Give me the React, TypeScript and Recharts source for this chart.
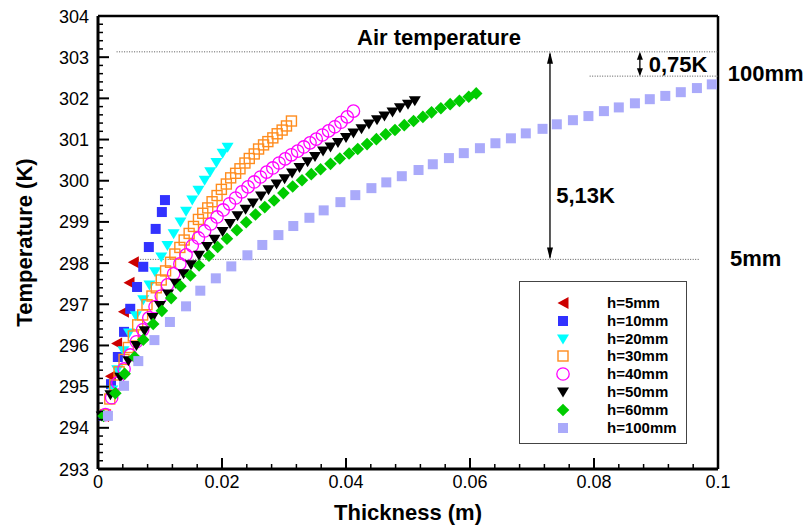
import React from 'react';
import { ScatterChart, Scatter, XAxis, YAxis, ReferenceLine, ReferenceDot, Legend } from 'recharts';

const FONT = '"Liberation Sans", Arial, Helvetica, sans-serif';

// ---- axis ticks ----
const xMajor = [0, 0.02, 0.04, 0.06, 0.08, 0.1];
const xMajorLabels = ['0', '0.02', '0.04', '0.06', '0.08', '0.1'];
const yMajor = [293, 294, 295, 296, 297, 298, 299, 300, 301, 302, 303, 304];
const yMajorLabels = ['293', '294', '295', '296', '297', '298', '299', '300', '301', '302', '303', '304'];
const xMinorStep = 0.004;
const yMinorStep = 0.2;

// ---- annotation values ----
const airTemp = 303.13;
const level5mm = 298.09;
const level100mm = 302.54;
const bigArrowX = 0.0729;
const smallArrowX = 0.0874;

// ---- series (thickness in m, temperature in K) ----
const h5X = [0.0009, 0.002, 0.003, 0.0041, 0.005, 0.0057];
const h5T = [294.29, 295.25, 296.05, 296.82, 297.52, 298.02];

const h10X = [0.0009, 0.0021, 0.0032, 0.0042, 0.0052, 0.0063, 0.0073, 0.0082, 0.0093, 0.0103, 0.0108];
const h10T = [294.29, 295.06, 295.72, 296.33, 296.89, 297.42, 297.91, 298.39, 298.83, 299.24, 299.53];

const h20X = [0.0009, 0.0023, 0.0031, 0.0041, 0.005, 0.0061, 0.0073, 0.0083, 0.0092, 0.0102, 0.0112, 0.0122, 0.0133, 0.0142, 0.0152, 0.0162, 0.0172, 0.0181, 0.0191, 0.0201, 0.0209];
const h20T = [294.29, 294.92, 295.41, 295.87, 296.3, 296.72, 297.11, 297.47, 297.79, 298.15, 298.43, 298.71, 299.0, 299.26, 299.53, 299.77, 300.01, 300.22, 300.44, 300.67, 300.81];

const h30X = [0.0012, 0.0019, 0.0027, 0.0034, 0.0042, 0.0049, 0.0057, 0.0064, 0.0072, 0.0079, 0.0087, 0.0094, 0.0102, 0.0109, 0.0117, 0.0124, 0.0132, 0.0139, 0.0147, 0.0154, 0.0162, 0.0169, 0.0177, 0.0184, 0.0192, 0.0199, 0.0207, 0.0214, 0.0222, 0.0229, 0.0237, 0.0244, 0.0252, 0.0259, 0.0267, 0.0274, 0.0282, 0.0289, 0.0297, 0.0304, 0.0312];
const h30T = [294.32, 294.7, 295.04, 295.36, 295.66, 295.95, 296.23, 296.5, 296.74, 296.99, 297.2, 297.4, 297.59, 297.81, 298.02, 298.22, 298.38, 298.56, 298.72, 298.89, 299.06, 299.21, 299.34, 299.49, 299.64, 299.79, 299.92, 300.07, 300.18, 300.29, 300.43, 300.54, 300.65, 300.77, 300.87, 300.95, 301.04, 301.14, 301.23, 301.33, 301.45];

const h40X = [0.0012, 0.0022, 0.0032, 0.0042, 0.0052, 0.0062, 0.0072, 0.0082, 0.0092, 0.0102, 0.0112, 0.0122, 0.0132, 0.0142, 0.0152, 0.0162, 0.0172, 0.0182, 0.0192, 0.0202, 0.0212, 0.0222, 0.0232, 0.0242, 0.0252, 0.0262, 0.0272, 0.0282, 0.0292, 0.0302, 0.0312, 0.0322, 0.0332, 0.0342, 0.0352, 0.0362, 0.0372, 0.0382, 0.0392, 0.0402, 0.0412];
const h40T = [294.32, 294.73, 295.09, 295.43, 295.77, 296.09, 296.38, 296.67, 296.94, 297.2, 297.47, 297.74, 297.98, 298.2, 298.42, 298.61, 298.78, 298.95, 299.12, 299.29, 299.44, 299.58, 299.73, 299.85, 299.97, 300.09, 300.21, 300.31, 300.43, 300.53, 300.63, 300.72, 300.82, 300.92, 301.01, 301.11, 301.21, 301.31, 301.42, 301.55, 301.69];

const h50X = [0.0006, 0.002, 0.0036, 0.0049, 0.0062, 0.0075, 0.0088, 0.01, 0.0113, 0.0125, 0.0138, 0.015, 0.0163, 0.0176, 0.0188, 0.0201, 0.0213, 0.0225, 0.0238, 0.025, 0.0263, 0.0275, 0.0288, 0.0301, 0.0313, 0.0325, 0.0338, 0.035, 0.0363, 0.0375, 0.0387, 0.04, 0.0412, 0.0425, 0.0437, 0.045, 0.0462, 0.0475, 0.0487, 0.05, 0.0511];
const h50T = [294.29, 294.8, 295.23, 295.63, 296.0, 296.36, 296.68, 296.97, 297.25, 297.51, 297.74, 297.96, 298.19, 298.4, 298.58, 298.77, 298.96, 299.15, 299.31, 299.46, 299.63, 299.78, 299.92, 300.05, 300.19, 300.32, 300.46, 300.59, 300.72, 300.82, 300.93, 301.05, 301.16, 301.26, 301.38, 301.48, 301.57, 301.67, 301.77, 301.86, 301.94];

const h60X = [0.0009, 0.0028, 0.0043, 0.0059, 0.0073, 0.0089, 0.0103, 0.0118, 0.0133, 0.0149, 0.0163, 0.0179, 0.0193, 0.0208, 0.0224, 0.0239, 0.0254, 0.0269, 0.0284, 0.0299, 0.0314, 0.0329, 0.0344, 0.0359, 0.0375, 0.039, 0.0405, 0.0419, 0.0434, 0.0449, 0.0464, 0.0479, 0.0494, 0.0509, 0.0524, 0.0538, 0.0553, 0.0568, 0.0583, 0.0598, 0.061];
const h60T = [294.29, 294.84, 295.31, 295.72, 296.14, 296.52, 296.84, 297.15, 297.44, 297.7, 297.94, 298.18, 298.39, 298.59, 298.8, 298.99, 299.18, 299.36, 299.52, 299.7, 299.86, 300.01, 300.16, 300.28, 300.41, 300.54, 300.66, 300.77, 300.89, 301.01, 301.13, 301.23, 301.35, 301.45, 301.55, 301.66, 301.76, 301.86, 301.94, 302.04, 302.12];

const h100X = [0.0016, 0.0042, 0.0065, 0.0091, 0.0116, 0.0142, 0.0165, 0.019, 0.0215, 0.0241, 0.0265, 0.0291, 0.0315, 0.0341, 0.0364, 0.0391, 0.0415, 0.0441, 0.0465, 0.049, 0.0517, 0.054, 0.0566, 0.059, 0.0616, 0.0641, 0.0666, 0.069, 0.0717, 0.074, 0.0766, 0.0791, 0.0816, 0.084, 0.0866, 0.089, 0.0915, 0.094, 0.0966, 0.099];
const h100T = [294.29, 295.02, 295.62, 296.13, 296.57, 296.95, 297.33, 297.63, 297.92, 298.19, 298.44, 298.68, 298.9, 299.1, 299.28, 299.48, 299.65, 299.82, 299.96, 300.11, 300.26, 300.4, 300.55, 300.67, 300.79, 300.91, 301.03, 301.15, 301.26, 301.37, 301.47, 301.57, 301.69, 301.78, 301.88, 301.98, 302.06, 302.15, 302.25, 302.34];

const seriesNames = ['h=5mm', 'h=10mm', 'h=20mm', 'h=30mm', 'h=40mm', 'h=50mm', 'h=60mm', 'h=100mm'];
const seriesKinds = ['left', 'square', 'down', 'osquare', 'circle', 'down', 'diamond', 'square'];
const seriesColors = ['#CC0000', '#3232FF', '#00FFFF', '#FF8C1E', '#FF00FF', '#000000', '#00CC00', '#AAAAFA'];
const seriesX = [h5X, h10X, h20X, h30X, h40X, h50X, h60X, h100X];
const seriesT = [h5T, h10T, h20T, h30T, h40T, h50T, h60T, h100T];

const toPts = (xs: number[], ts: number[]) => xs.map((x, i) => ({ x, y: ts[i] }));

const xTicks: number[] = [];
for (let i = 0; i <= Math.round(0.1 / xMinorStep); i++) xTicks.push(Math.round(i * xMinorStep * 1e6) / 1e6);
const yTicks: number[] = [];
for (let i = 0; i <= Math.round(11 / yMinorStep); i++) yTicks.push(Math.round((293 + i * yMinorStep) * 1e4) / 1e4);

function Mk({ kind, color, cx, cy }: any) {
  switch (kind) {
    case 'left':
      return <polygon points={`${cx - 5.5},${cy} ${cx + 5.5},${cy - 6} ${cx + 5.5},${cy + 6}`} fill={color} />;
    case 'square':
      return <rect x={cx - 5} y={cy - 5} width={10} height={10} fill={color} />;
    case 'down':
      return <polygon points={`${cx - 6},${cy - 4.5} ${cx + 6},${cy - 4.5} ${cx},${cy + 5.5}`} fill={color} />;
    case 'osquare':
      return <rect x={cx - 5} y={cy - 5} width={10} height={10} fill="none" stroke={color} strokeWidth={1.4} />;
    case 'circle':
      return <circle cx={cx} cy={cy} r={6.2} fill="none" stroke={color} strokeWidth={1.3} />;
    case 'diamond':
      return <polygon points={`${cx},${cy - 6.3} ${cx + 6.3},${cy} ${cx},${cy + 6.3} ${cx - 6.3},${cy}`} fill={color} />;
    default:
      return null;
  }
}

const XTick = (props: any) => {
  const { x, y, payload } = props;
  const idx = xMajor.findIndex((m) => Math.abs(m - payload.value) < 1e-7);
  const major = idx >= 0;
  return (
    <g>
      <line x1={x} y1={y} x2={x} y2={y - (major ? 11 : 5)} stroke="#000" strokeWidth={major ? 2 : 1.5} />
      {major && (
        <text x={x} y={y + 19} textAnchor="middle" fontSize={18} fontFamily={FONT} fill="#000">
          {xMajorLabels[idx]}
        </text>
      )}
    </g>
  );
};

const YTick = (props: any) => {
  const { x, y, payload } = props;
  const idx = yMajor.findIndex((m) => Math.abs(m - payload.value) < 1e-6);
  const major = idx >= 0;
  return (
    <g>
      <line x1={x} y1={y} x2={x + (major ? 11 : 5)} y2={y} stroke="#000" strokeWidth={major ? 2 : 1.5} />
      {major && (
        <text x={x - 9} y={y + 6.5} textAnchor="end" fontSize={18} fontFamily={FONT} fill="#000">
          {yMajorLabels[idx]}
        </text>
      )}
    </g>
  );
};

const makeArrow = (head: number) => (p: any) => {
  const { x1, y1, y2 } = p;
  const top = Math.min(y1, y2);
  const bot = Math.max(y1, y2);
  return (
    <g>
      <line x1={x1} y1={top + 2} x2={x1} y2={bot - 2} stroke="#000" strokeWidth={1.3} />
      <polygon points={`${x1},${top} ${x1 - 3},${top + head} ${x1 + 3},${top + head}`} fill="#000" />
      <polygon points={`${x1},${bot} ${x1 - 3},${bot - head} ${x1 + 3},${bot - head}`} fill="#000" />
    </g>
  );
};

const textAt = (txt: string, dx: number, dy: number, anchor: string = 'start') => (props: any) => {
  const vb = props.viewBox || { x: 0, y: 0 };
  return (
    <text x={vb.x + dx} y={vb.y + dy} textAnchor={anchor} fontSize={22} fontWeight="bold" fontFamily={FONT} fill="#000">
      {txt}
    </text>
  );
};

const LegendBox = () => (
  <div
    style={{
      position: 'relative',
      width: 168,
      height: 163,
      border: '1.5px solid #444',
      boxSizing: 'border-box',
      background: '#fff',
    }}
  >
    {seriesNames.map((name, i) => (
      <div key={name} style={{ position: 'absolute', left: 0, top: 21 + i * 17.8 - 10, height: 20, width: '100%' }}>
        <svg width={20} height={20} style={{ position: 'absolute', left: 33, top: 0 }}>
          <Mk kind={seriesKinds[i]} color={seriesColors[i]} cx={10} cy={10} />
        </svg>
        <span
          style={{
            position: 'absolute',
            left: 87,
            top: 0,
            lineHeight: '20px',
            fontFamily: FONT,
            fontWeight: 'bold',
            fontSize: 15,
            color: '#000',
            whiteSpace: 'nowrap',
          }}
        >
          {name}
        </span>
      </div>
    ))}
  </div>
);

export default function App() {
  return (
    <div style={{ position: 'absolute', left: 0, top: 0, width: 809, height: 526, background: '#fff' }}>
      <ScatterChart width={809} height={526} margin={{ top: 16, right: 91, bottom: 0, left: 0 }}>
        <XAxis
          type="number"
          dataKey="x"
          domain={[0, 0.1]}
          ticks={xTicks}
          interval={0}
          tickSize={0}
          tickMargin={0}
          tickLine={false}
          tick={<XTick />}
          height={57}
          axisLine={{ stroke: '#000', strokeWidth: 3 }}
          label={{
            content: (p: any) => {
              const vb = p.viewBox || { x: 98, y: 469, width: 620 };
              return (
                <text x={vb.x + vb.width / 2} y={vb.y + 51} textAnchor="middle" fontSize={22} fontWeight="bold" fontFamily={FONT} fill="#000">
                  Thickness (m)
                </text>
              );
            },
          }}
        />
        <YAxis
          type="number"
          dataKey="y"
          domain={[293, 304]}
          ticks={yTicks}
          interval={0}
          tickSize={0}
          tickMargin={0}
          tickLine={false}
          tick={<YTick />}
          width={98}
          axisLine={{ stroke: '#000', strokeWidth: 3 }}
          label={{
            content: (p: any) => {
              const vb = p.viewBox || { x: 0, y: 16, width: 98, height: 453 };
              return (
                <text
                  transform={`translate(${vb.x + 31.5},${vb.y + vb.height / 2}) rotate(-90)`}
                  textAnchor="middle"
                  fontSize={22}
                  fontWeight="bold"
                  fontFamily={FONT}
                  fill="#000"
                >
                  Temperature (K)
                </text>
              );
            },
          }}
        />
        <ReferenceLine y={304} stroke="#000" strokeWidth={2.5} />
        <ReferenceLine x={0.1} stroke="#000" strokeWidth={2.5} />

        <ReferenceLine segment={[{ x: 0.003, y: airTemp }, { x: 0.1, y: airTemp }]} stroke="#555" strokeWidth={1} strokeDasharray="1 1.5" />
        <ReferenceLine segment={[{ x: 0.0064, y: level5mm }, { x: 0.097, y: level5mm }]} stroke="#555" strokeWidth={1} strokeDasharray="1 1.5" />
        <ReferenceLine segment={[{ x: 0.0793, y: level100mm }, { x: 0.1, y: level100mm }]} stroke="#555" strokeWidth={1} strokeDasharray="1 1.5" />
        <ReferenceLine segment={[{ x: bigArrowX, y: airTemp }, { x: bigArrowX, y: level5mm }]} shape={makeArrow(12)} />
        <ReferenceLine segment={[{ x: smallArrowX, y: airTemp }, { x: smallArrowX, y: level100mm }]} shape={makeArrow(8)} />

        {seriesNames.map((name, i) => (
          <Scatter
            key={name}
            name={name}
            data={toPts(seriesX[i], seriesT[i])}
            isAnimationActive={false}
            shape={(p: any) => <Mk kind={seriesKinds[i]} color={seriesColors[i]} cx={p.cx} cy={p.cy} />}
          />
        ))}

        <ReferenceDot x={0.055} y={airTemp} r={0} fill="none" stroke="none" label={{ content: textAt('Air temperature', 0, -6.8, 'middle') }} />
        <ReferenceDot x={smallArrowX} y={level100mm} r={0} fill="none" stroke="none" label={{ content: textAt('0,75K', 8.8, -3.7) }} />
        <ReferenceDot x={bigArrowX} y={299.45} r={0} fill="none" stroke="none" label={{ content: textAt('5,13K', 6.3, 0) }} />
        <ReferenceDot x={0.1} y={level100mm} r={0} fill="none" stroke="none" label={{ content: textAt('100mm', 9.7, 5) }} />
        <ReferenceDot x={0.1} y={level5mm} r={0} fill="none" stroke="none" label={{ content: textAt('5mm', 12, 6.7) }} />

        <Legend
          layout="vertical"
          align="center"
          verticalAlign="middle"
          wrapperStyle={{ position: 'absolute', left: 519, top: 281, width: 168, height: 163, margin: 0, padding: 0 }}
          content={() => <LegendBox />}
        />
      </ScatterChart>
    </div>
  );
}
